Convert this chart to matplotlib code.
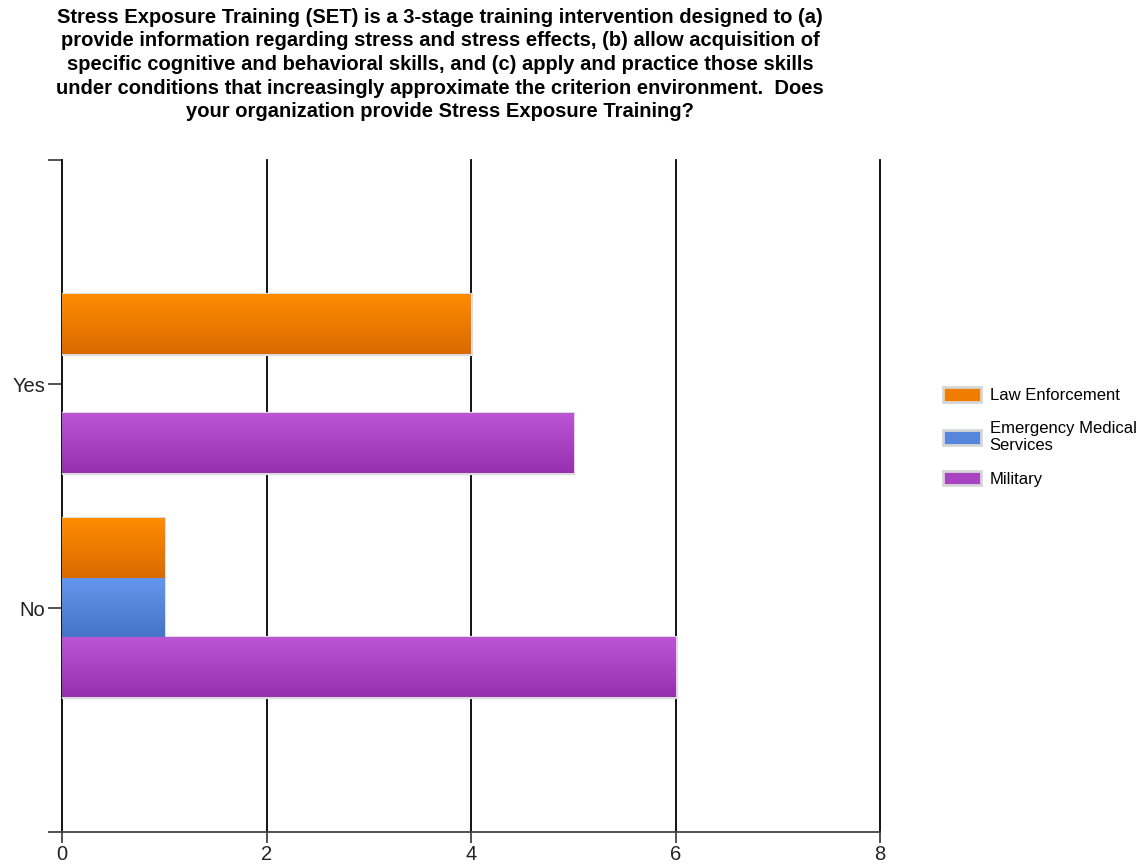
import numpy as np
import matplotlib.pyplot as plt
from matplotlib.colors import LinearSegmentedColormap
from matplotlib.patches import Patch, Rectangle

plt.rcParams['font.family'] = ['Liberation Sans', 'DejaVu Sans']

title = ("Stress Exposure Training (SET) is a 3-stage training intervention designed to (a)\n"
         "provide information regarding stress and stress effects, (b) allow acquisition of\n"
         "specific cognitive and behavioral skills, and (c) apply and practice those skills\n"
         "under conditions that increasingly approximate the criterion environment.  Does\n"
         "your organization provide Stress Exposure Training?")

categories = ["No", "Yes"]
series = ["Law Enforcement", "Emergency Medical\nServices", "Military"]
law_enforcement = [1, 4]
ems = [1, 0]
military = [6, 5]
values = [law_enforcement, ems, military]

# top colour, bottom colour of each bar gradient
grads = [("#ff8c00", "#d96a00"), ("#6596ed", "#4474c8"), ("#bb55d6", "#9630ad")]
legend_cols = ["#f07c00", "#5586dc", "#a844c2"]

fig = plt.figure(figsize=(11.46, 8.67), dpi=100)
ax = fig.add_axes([62 / 1146, 1 - 832 / 867, 818 / 1146, 672 / 867])

h = 0.265
offsets = [h, 0, -h]
ypos = np.arange(len(categories))
grad = np.linspace(0, 1, 64).reshape(-1, 1)
for vals, off, (c1, c2) in zip(values, offsets, grads):
    cmap = LinearSegmentedColormap.from_list("g", [c1, c2])
    for y, v in zip(ypos, vals):
        if v == 0:
            continue
        y0, y1 = y + off - h / 2, y + off + h / 2
        ax.add_patch(Rectangle((0, y0), v, h, facecolor="none",
                               edgecolor="#dcdcdc", lw=3, zorder=3))
        ax.imshow(grad, extent=(0, v, y0, y1), aspect="auto", cmap=cmap,
                  origin="upper", zorder=4, interpolation="bilinear")

ax.set_xlim(0, 8)
ax.set_ylim(-1, 2)
ax.set_xticks([0, 2, 4, 6, 8])
ax.set_yticks([-1, 0, 1, 2])
ax.set_yticklabels(["", "No", "Yes", ""])
for x in [2, 4, 6, 8]:
    ax.axvline(x, color="black", lw=1.3, zorder=1, clip_on=False)
ax.tick_params(axis="y", length=10, width=1.2, color="#333333",
               labelsize=14.5, labelcolor="#222222", pad=2)
ax.tick_params(axis="x", length=8, width=1.2, color="#333333",
               labelsize=14.5, labelcolor="#222222", pad=1)
for s in ["top", "right"]:
    ax.spines[s].set_visible(False)
ax.spines["left"].set_color("black")
ax.spines["left"].set_linewidth(1.3)
ax.spines["bottom"].set_color("#444444")
ax.spines["bottom"].set_linewidth(1.3)

fig.text(440 / 1146, 1 - 8 / 867, title, ha="center", va="top",
         fontsize=14.5, fontweight="bold", linespacing=1.3)

handles = [Patch(facecolor=c, edgecolor="#d6d6d6", lw=2) for c in legend_cols]
fig.legend(handles, series, loc="upper left",
           bbox_to_anchor=(928 / 1146, 1 - 372 / 867), frameon=False,
           fontsize=12, handlelength=2.3, handleheight=1.0,
           labelspacing=1.05, handletextpad=0.5)

fig.savefig("out.png", dpi=100)
